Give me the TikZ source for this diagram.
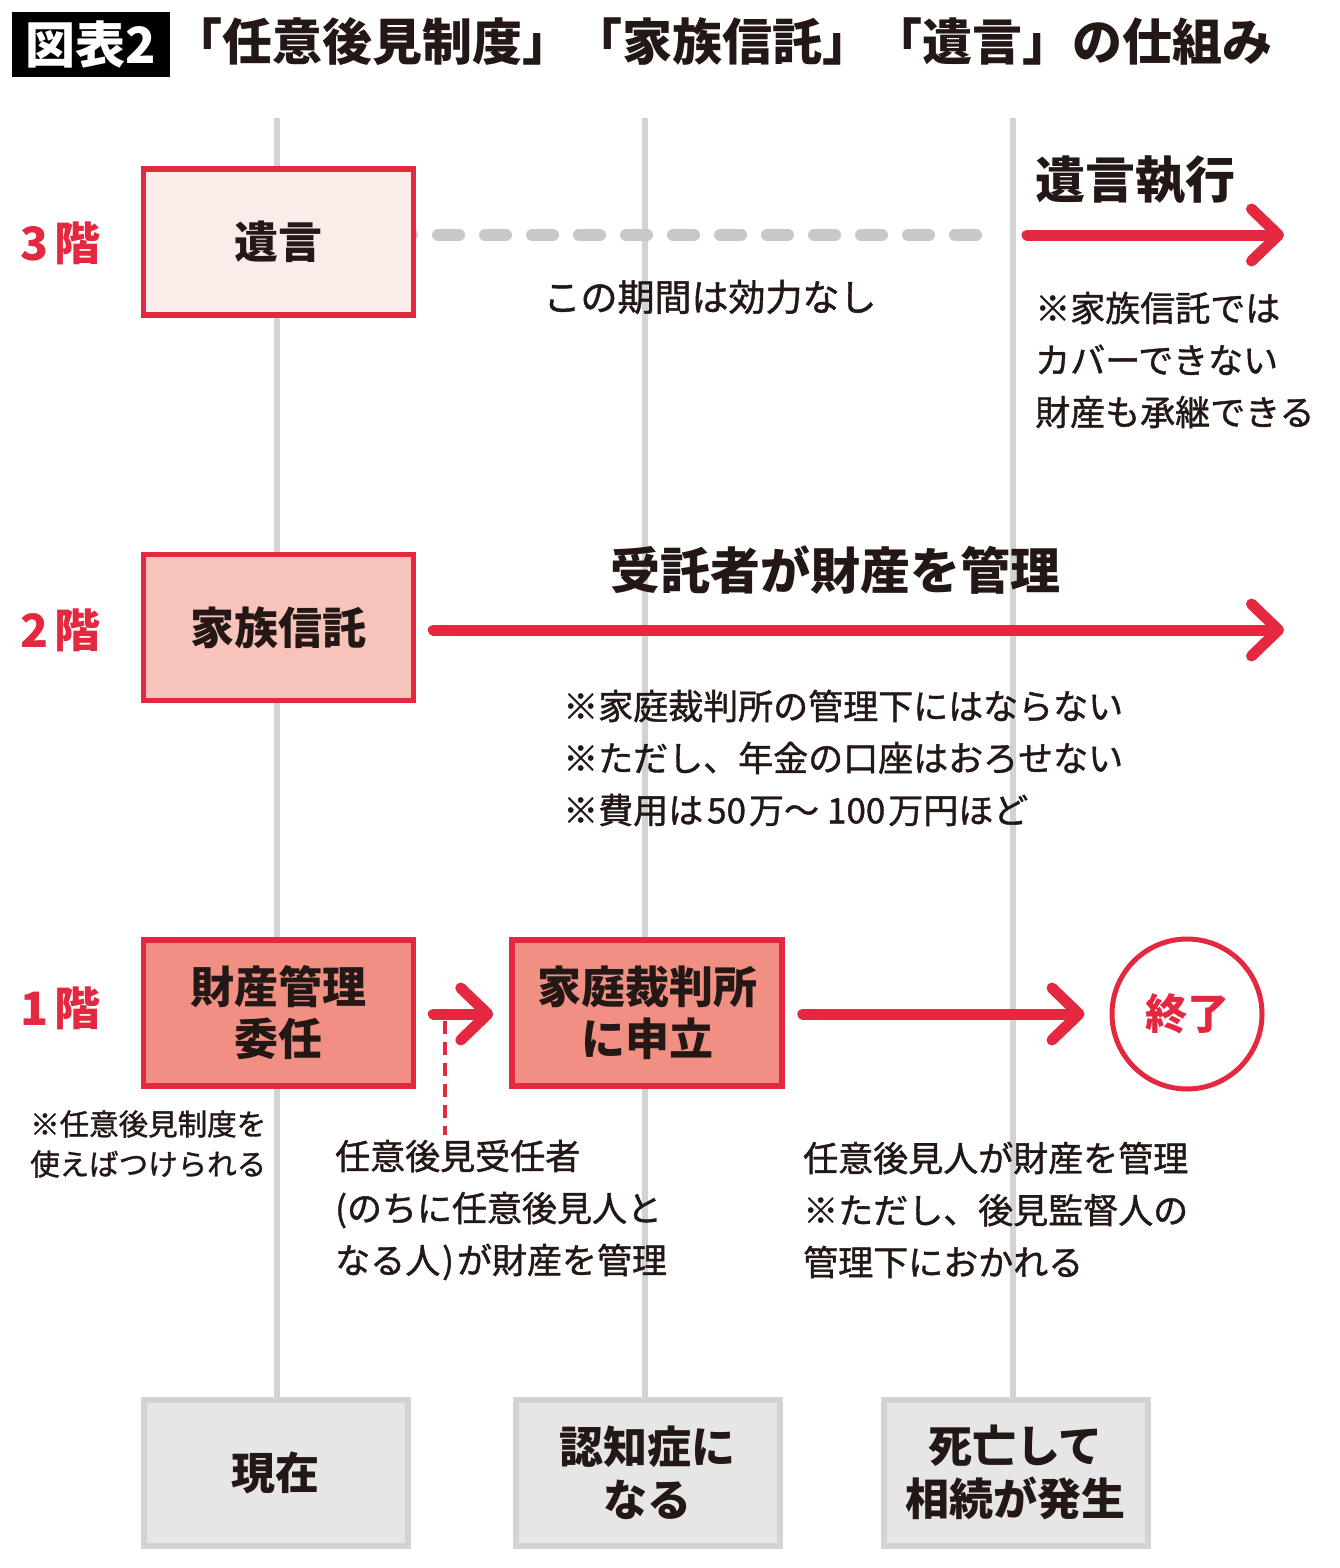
\documentclass[tikz,border=0pt]{standalone}
\usepackage{fontspec}
\setmainfont{Noto Sans CJK JP}
\newfontfamily\notefont{Noto Sans CJK JP}[FakeBold=1.2]
\usetikzlibrary{arrows.meta}
\definecolor{myred}{HTML}{E4283F}
\definecolor{ink}{HTML}{231815}
\definecolor{pinkA}{HTML}{FCECE9}
\definecolor{pinkB}{HTML}{F7C3BB}
\definecolor{pinkC}{HTML}{F08F82}
\definecolor{lgray}{HTML}{D3D3D3}
\definecolor{dgray}{HTML}{C8C8C8}
\definecolor{boxgray}{HTML}{E6E6E6}
\tikzset{
  redbox/.style={draw=myred, line width=5.5pt, minimum width=270pt, minimum height=146pt,
    inner sep=0pt, align=center, text=ink, font=\fontsize{44}{52}\selectfont\bfseries},
  graybox/.style={draw=lgray, fill=boxgray, line width=6pt, minimum width=264pt, minimum height=146pt,
    inner sep=0pt, align=center, text=ink, font=\fontsize{44}{53}\selectfont\bfseries},
  floorlbl/.style={anchor=west, inner sep=0pt, text=myred, font=\fontsize{46}{46}\selectfont\bfseries},
  note/.style={anchor=west, inner sep=0pt, align=left, text=ink, font=\notefont\fontsize{35}{52}\selectfont},
  head/.style={inner sep=0pt, text=ink, font=\fontsize{50}{50}\selectfont\bfseries},
  timeline/.style={draw=lgray, line width=6.5pt},
  redarrow/.style={draw=myred, line width=11pt, line cap=round,
    -{Straight Barb[length=27pt, width=52pt, round]}},
  nullline/.style={draw=dgray, line width=12pt, line cap=round, dash pattern=on 21pt off 26pt},
  reddash/.style={draw=myred, line width=4pt, dash pattern=on 13pt off 8pt}
}
\begin{document}
\begin{tikzpicture}[x=1pt,y=-1pt]
\useasboundingbox (0,0) rectangle (1340,1568);
% title
\node[fill=black, minimum width=158pt, minimum height=65pt, inner sep=0pt, anchor=north west,
  text=white, font=\fontsize{50}{50}\selectfont\bfseries] (tag) at (12,12) {図表2};
\node[head, anchor=west] (title) at (172,42)
  {「任意後見制度」「家族信託」「遺言」の仕組み};
% timelines
\coordinate (t1a) at (277,118); \coordinate (t1b) at (277,1400);
\coordinate (t2a) at (645,118); \coordinate (t2b) at (645,1400);
\coordinate (t3a) at (1013,118); \coordinate (t3b) at (1013,1400);
\draw[timeline] (t1a) -- (t1b);
\draw[timeline] (t2a) -- (t2b);
\draw[timeline] (t3a) -- (t3b);
% floor 3
\coordinate (d1) at (391,235); \coordinate (d2) at (994,235);
\draw[nullline] (d1) -- (d2);
\node[redbox, fill=pinkA] (will) at (278.5,242) {遺言};
\node[floorlbl] (f3) at (20,243) {3\hspace{6pt}階};
\coordinate (w1) at (1027,235); \coordinate (w2) at (1284,235);
\draw[redarrow] (w1) -- (w2);
\node[head, anchor=west] (exec) at (1035,180) {遺言執行};
\node[note, anchor=center, font=\notefont\fontsize{37}{52}\selectfont] (noeff) at (710,297) {この期間は効力なし};
\node[note] (n3) at (1035,360) {※家族信託では\\カバーできない\\財産も承継できる};
% floor 2
\node[redbox, fill=pinkB] (trust) at (278.5,627.5) {家族信託};
\node[floorlbl] (f2) at (20,630) {2\hspace{6pt}階};
\coordinate (tr2) at (1284,630);
\draw[redarrow] ([xshift=17pt]trust.east |- tr2) -- (tr2);
\node[head] (trustee) at (835,570) {受託者が財産を管理};
\node[note] (n2) at (563,758) {※家庭裁判所の管理下にはならない\\※ただし、年金の口座はおろせない\\※費用は\hspace{4pt}50\hspace{3pt}万〜\hspace{8pt}100\hspace{3pt}万円ほど};
% floor 1
\node[redbox, fill=pinkC] (poa) at (278.5,1013) {財産管理\\委任};
\node[redbox, fill=pinkC] (court) at (647,1013) {家庭裁判所\\に申立};
\node[floorlbl] (f1) at (20,1008) {1\hspace{6pt}階};
\node[circle, draw=myred, fill=white, line width=5pt, minimum size=150pt, inner sep=0pt,
  text=myred, font=\fontsize{42}{42}\selectfont\bfseries] (end) at (1187,1014) {終了};
\draw[redarrow] ([xshift=17pt]poa.east |- 0,1014) -- ([xshift=-16pt]court.west |- 0,1014);
\draw[redarrow] ([xshift=18pt]court.east |- 0,1014) -- ([xshift=-25pt]end.west);
\coordinate (dq1) at (445,1021); \coordinate (dq2) at (445,1135);
\draw[reddash] (dq1) -- (dq2);
\node[note, font=\notefont\fontsize{29.5}{40}\selectfont] (n1a) at (30,1144) {※任意後見制度を\\使えばつけられる};
\node[note] (n1b) at (335,1210) {任意後見受任者\\(のちに任意後見人と\\なる人\hspace{2pt})\hspace{3pt}が財産を管理};
\node[note] (n1c) at (803,1210) {任意後見人が財産を管理\\※ただし、後見監督人の\\管理下におかれる};
% bottom stages
\node[graybox] (now) at (275.5,1472.5) {現在};
\node[graybox] (dem) at (647.5,1472.5) {認知症に\\なる};
\node[graybox] (death) at (1015.5,1472.5) {死亡して\\相続が発生};
\end{tikzpicture}
\end{document}
